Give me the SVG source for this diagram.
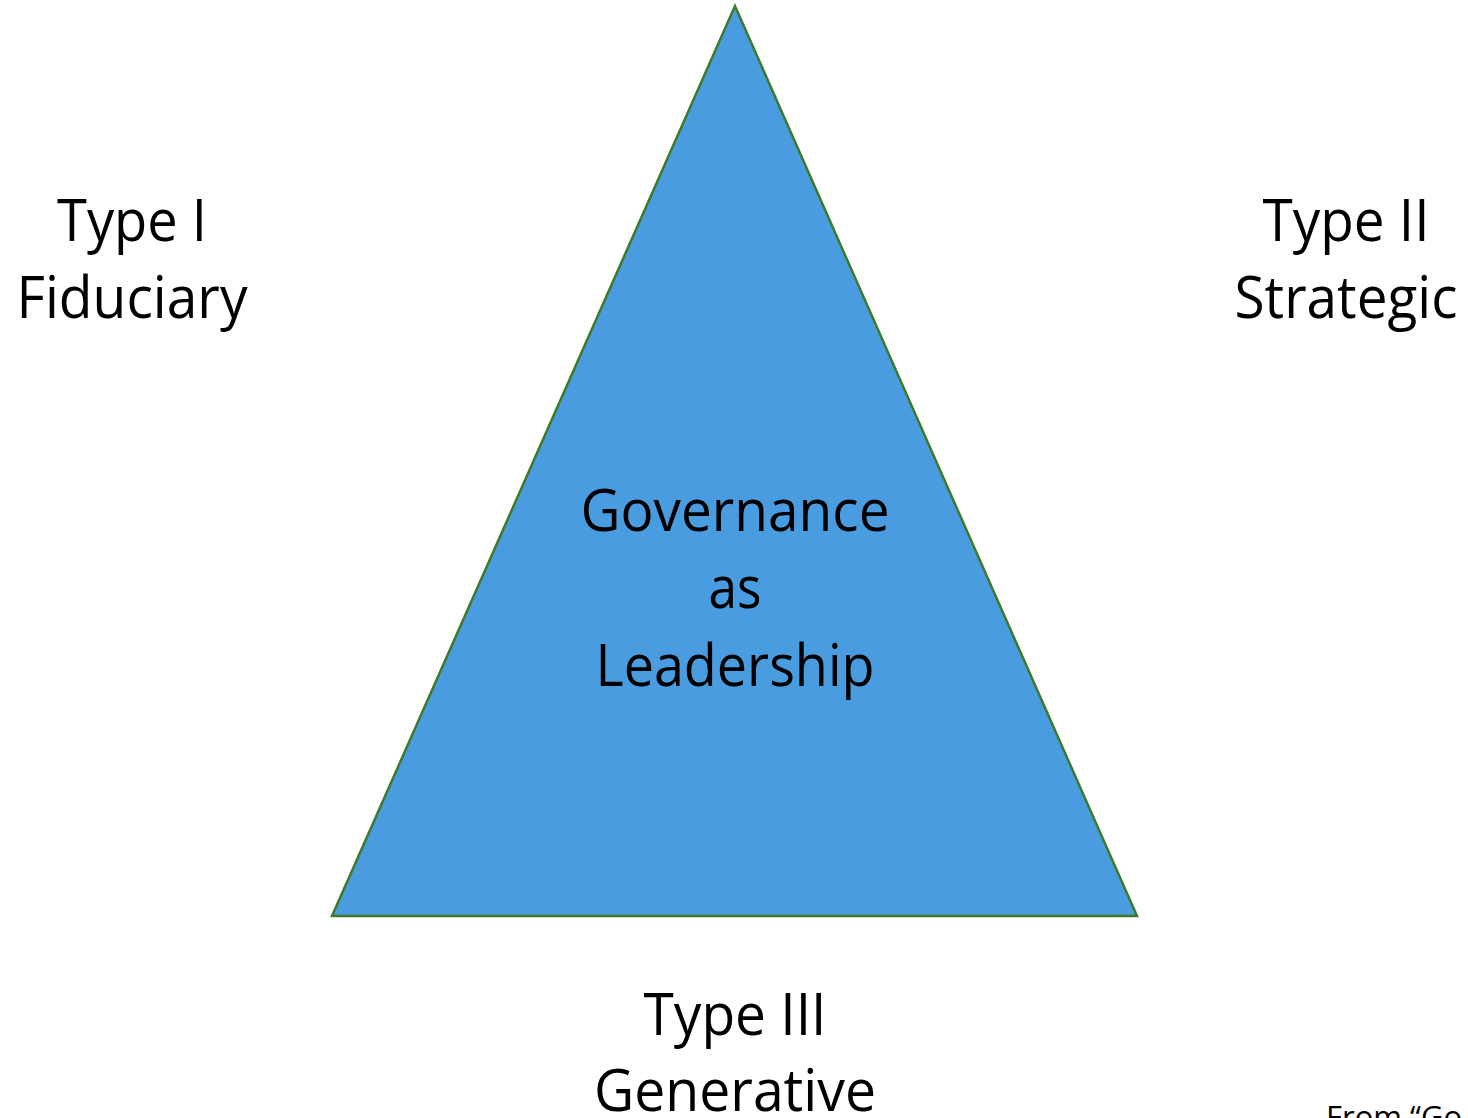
<svg xmlns="http://www.w3.org/2000/svg" width="1468" height="1118" viewBox="0 0 1468 1118">
<style>
.lbl{font-family:"Open Sans","Noto Sans","Liberation Sans",sans-serif;font-size:58px;fill:#000;text-anchor:middle}
.note{font-family:"Open Sans","Noto Sans","Liberation Sans",sans-serif;font-size:31px;fill:#000}
</style>
<rect width="1468" height="1118" fill="#fff"/>
<g id="triangle">
<polygon points="735,6 332,916 1137,916" fill="#4A9CE0" stroke="#3E7A2A" stroke-width="2.5" stroke-linejoin="miter"/>
<text class="lbl" x="735" y="531" textLength="309" lengthAdjust="spacingAndGlyphs">Governance</text>
<text class="lbl" x="735" y="608" textLength="53" lengthAdjust="spacingAndGlyphs">as</text>
<text class="lbl" x="735" y="686" textLength="279" lengthAdjust="spacingAndGlyphs">Leadership</text>
</g>
<g id="type1">
<text class="lbl" x="132" y="241" textLength="150" lengthAdjust="spacingAndGlyphs">Type I</text>
<text class="lbl" x="132" y="318" textLength="231" lengthAdjust="spacingAndGlyphs">Fiduciary</text>
</g>
<g id="type2">
<text class="lbl" x="1346" y="241" textLength="167" lengthAdjust="spacingAndGlyphs">Type II</text>
<text class="lbl" x="1346" y="318" textLength="223" lengthAdjust="spacingAndGlyphs">Strategic</text>
</g>
<g id="type3">
<text class="lbl" x="735" y="1035" textLength="183" lengthAdjust="spacingAndGlyphs">Type III</text>
<text class="lbl" x="735" y="1111" textLength="282" lengthAdjust="spacingAndGlyphs">Generative</text>
</g>
<g id="source">
<text class="note" x="1326" y="1128">From “Go</text>
</g>
<g id="connectors"/>
</svg>
